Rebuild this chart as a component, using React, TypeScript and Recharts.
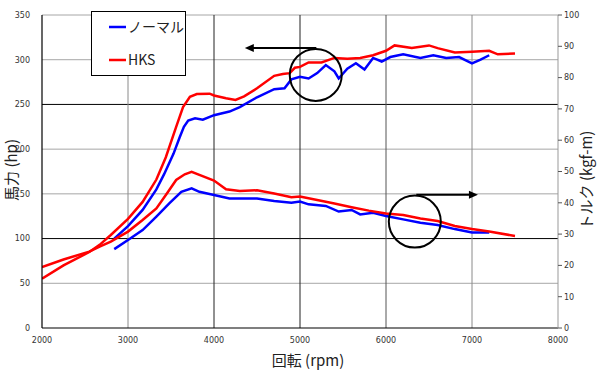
import React from 'react';
import { LineChart, Line, XAxis, YAxis, ReferenceLine, ReferenceDot } from 'recharts';

const rpmHpHks = [2000,2250,2550,2670,2800,3000,3170,3330,3440,3560,3640,3720,3800,3950,4000,4140,4250,4350,4500,4700,4800,4880,4940,5000,5100,5250,5400,5550,5700,5850,6000,6100,6300,6500,6600,6800,7000,7200,7300,7500];
const hpHks = [55,70,85,93,104,122,141,166,191,225,247,258.6,261.6,262,260,257,255,259,268,282,284,285,291,292,297,297,302,301,302,305,310,316,313,316,313,308,309,310,306,307];

const rpmHpNormal = [2840,3000,3170,3330,3420,3530,3600,3650,3700,3780,3870,4000,4180,4300,4500,4700,4820,4900,5000,5100,5200,5300,5400,5450,5550,5650,5750,5850,5950,6050,6200,6400,6550,6700,6850,7000,7100,7200];
const hpNormal = [100,114,132,155,172,195,213,225,232,234.5,233,238,242,247,258,267,268,278,281,279,285,294,287,279,290,296,289,302,298,303,306,302,305,302,303,296,300,305];

const rpmTqHks = [2000,2250,2550,2670,2800,3000,3170,3330,3440,3560,3660,3740,3830,4000,4140,4300,4500,4700,4900,5000,5200,5400,5600,5800,6000,6200,6400,6600,6800,7000,7200,7500];
const tqHks = [19.5,21.9,24.4,26,27.6,30.8,34.5,38.2,42.5,47.3,49.1,49.9,48.9,47.1,44.3,43.8,44,43,41.8,42,40.9,39.8,38.6,37.5,36.6,36.1,35,34.2,32.6,31.6,30.8,29.4];

const rpmTqNormal = [2840,3000,3170,3330,3480,3620,3740,3830,4000,4180,4300,4500,4700,4900,5000,5100,5300,5450,5600,5700,5850,6000,6200,6400,6600,6800,7000,7200];
const tqNormal = [25.2,28.1,31.3,35.6,39.8,43.5,44.6,43.5,42.5,41.4,41.4,41.4,40.6,40,40.4,39.5,39,37.2,37.7,36.3,36.8,35.8,34.7,33.6,32.9,31.6,30.5,30.5];

const xTicks = [2000,3000,4000,5000,6000,7000,8000];
const leftTicks = [0,50,100,150,200,250,300,350];
const rightTicks = [0,10,20,30,40,50,60,70,80,90,100];

const build = (xs: number[], ys: number[]) => xs.map((x, i) => ({ rpm: x, v: ys[i] }));
const dHpHks = build(rpmHpHks, hpHks);
const dHpNormal = build(rpmHpNormal, hpNormal);
const dTqHks = build(rpmTqHks, tqHks);
const dTqNormal = build(rpmTqNormal, tqNormal);

const hGrid = [
  { v: 50, c: '#a6a6a6' }, { v: 100, c: '#000' }, { v: 150, c: '#a6a6a6' },
  { v: 200, c: '#a6a6a6' }, { v: 250, c: '#000' }, { v: 300, c: '#a6a6a6' }, { v: 350, c: '#a6a6a6' },
];
const vGrid = [
  { v: 3000, c: '#8a8a8a' }, { v: 4000, c: '#222' }, { v: 5000, c: '#222' },
  { v: 6000, c: '#555' }, { v: 7000, c: '#8a8a8a' },
];

const tickFont = { fontSize: 8, fill: '#333', fontFamily: 'DejaVu Sans' };

const Arrow = (props: any) => {
  const { x1, y1, x2, y2 } = props;
  const dir = x2 > x1 ? 1 : -1;
  return (
    <g>
      <line x1={x1} y1={y1} x2={x2 - dir * 6} y2={y2} stroke="#000" strokeWidth={2} />
      <polygon points={`${x2},${y2} ${x2 - dir * 9},${y2 - 4} ${x2 - dir * 9},${y2 + 4}`} fill="#000" />
    </g>
  );
};

export default function App() {
  return (
    <div style={{ position: 'absolute', left: 0, top: 0, width: 600, height: 373, background: '#fff' }}>
      <LineChart width={600} height={373} margin={{ top: 15, right: 0, left: 0, bottom: 0 }}>
        <XAxis dataKey="rpm" type="number" domain={[2000, 8000]} ticks={xTicks} allowDataOverflow
          tick={tickFont} tickLine={false} axisLine={{ stroke: '#000', strokeWidth: 1.2 }} height={45} tickMargin={3} />
        <YAxis yAxisId="left" domain={[0, 350]} ticks={leftTicks} width={42} tick={tickFont}
          tickLine={false} axisLine={{ stroke: '#000', strokeWidth: 1.2 }} tickMargin={6} />
        <YAxis yAxisId="right" orientation="right" domain={[0, 100]} ticks={rightTicks} width={42}
          tick={tickFont} tickSize={4} tickLine={{ stroke: '#555' }} axisLine={{ stroke: '#999' }} tickMargin={2} />
        {hGrid.map((g) => (
          <ReferenceLine key={'h' + g.v} yAxisId="left" y={g.v} stroke={g.c} strokeWidth={1} />
        ))}
        {vGrid.map((g) => (
          <ReferenceLine key={'v' + g.v} yAxisId="left" x={g.v} stroke={g.c} strokeWidth={1} />
        ))}
        <Line data={dHpNormal} yAxisId="left" dataKey="v" stroke="#0000ff" strokeWidth={2.5} dot={false} isAnimationActive={false} />
        <Line data={dHpHks} yAxisId="left" dataKey="v" stroke="#ff0000" strokeWidth={2.5} dot={false} isAnimationActive={false} />
        <Line data={dTqNormal} yAxisId="right" dataKey="v" stroke="#0000ff" strokeWidth={2.5} dot={false} isAnimationActive={false} />
        <Line data={dTqHks} yAxisId="right" dataKey="v" stroke="#ff0000" strokeWidth={2.5} dot={false} isAnimationActive={false} />
        <ReferenceDot yAxisId="left" x={5183} y={283} r={26} fill="none" stroke="#000" strokeWidth={2} />
        <ReferenceDot yAxisId="left" x={6335} y={119} r={26} fill="none" stroke="#000" strokeWidth={2} />
        <ReferenceLine yAxisId="left" segment={[{ x: 5190, y: 313 }, { x: 4358, y: 313 }]} shape={<Arrow />} />
        <ReferenceLine yAxisId="left" segment={[{ x: 6352, y: 149 }, { x: 7069, y: 149 }]} shape={<Arrow />} />
      </LineChart>
      <svg width={600} height={373} style={{ position: 'absolute', left: 0, top: 0, pointerEvents: 'none' }}>
        <rect x={91.5} y={11.5} width={94} height={64} fill="#fff" stroke="#000" strokeWidth={1} />
        <line x1={109} y1={27} x2={126} y2={27} stroke="#0000ff" strokeWidth={2.5} />
        <text x={128} y={32} fontSize={14} fontFamily="Noto Sans CJK JP" fill="#222">ノーマル</text>
        <line x1={109} y1={60} x2={126} y2={60} stroke="#ff0000" strokeWidth={2.5} />
        <text x={128} y={65} fontSize={14} fontFamily="Noto Sans CJK JP" fill="#222">HKS</text>
        <text transform="translate(17,170) rotate(-90)" textAnchor="middle" fontSize={15} fontFamily="Noto Sans CJK JP" fill="#222">馬力 (hp)</text>
        <text transform="translate(592,180) rotate(-90)" textAnchor="middle" fontSize={15} fontFamily="Noto Sans CJK JP" fill="#222">トルク (kgf-m)</text>
        <text x={308} y={366} textAnchor="middle" fontSize={15} fontFamily="Noto Sans CJK JP" fill="#222">回転 (rpm)</text>
      </svg>
    </div>
  );
}
